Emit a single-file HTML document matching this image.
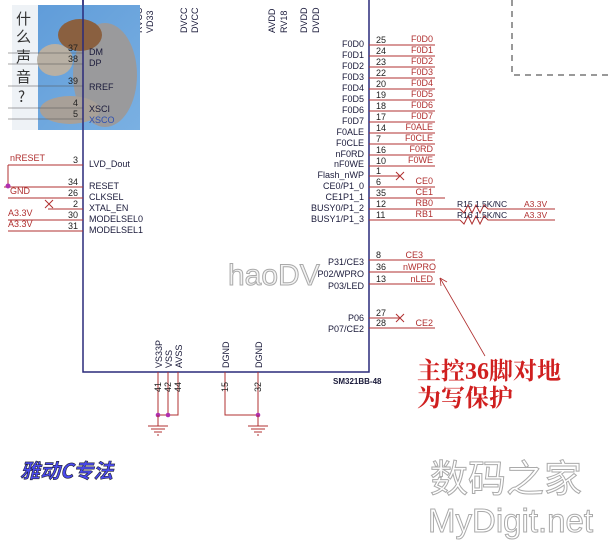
<!DOCTYPE html>
<html><head><meta charset="utf-8"><style>
html,body{margin:0;padding:0;background:#fff;}
svg{display:block;}
.t{font-family:"Liberation Sans",sans-serif;font-size:9px;fill:#1a1a3a;}
.r{font-family:"Liberation Sans",sans-serif;font-size:9px;fill:#b03030;}
.n{font-family:"Liberation Sans",sans-serif;font-size:9px;fill:#222;}
</style></head><body>
<svg width="608" height="554" viewBox="0 0 608 554" xmlns="http://www.w3.org/2000/svg">
<rect width="608" height="554" fill="#fff"/>
<path d="M512 0 V75 H608" fill="none" stroke="#333" stroke-dasharray="6,5" stroke-width="1"/>
<path d="M83 0 V372 H369 V0" fill="none" stroke="#2a2a7a" stroke-width="1.5"/>
<text x="333" y="384" class="t" style="font-weight:bold;font-size:8px">SM321BB-48</text>
<g class="t">
<text transform="translate(109,30) rotate(-90)" style="fill:#3050b0">RV5</text>
<text transform="translate(119,30) rotate(-90)" style="fill:#3050b0">RV33</text>
<text transform="translate(142,33) rotate(-90)">RVCC</text>
<text transform="translate(153,33) rotate(-90)">VD33</text>
<text transform="translate(187,33) rotate(-90)">DVCC</text>
<text transform="translate(198,33) rotate(-90)">DVCC</text>
<text transform="translate(275,33) rotate(-90)">AVDD</text>
<text transform="translate(287,33) rotate(-90)">RV18</text>
<text transform="translate(307,33) rotate(-90)">DVDD</text>
<text transform="translate(319,33) rotate(-90)">DVDD</text>
</g>
<g stroke="#b03030" stroke-width="1" fill="none">
<line x1="369" y1="45" x2="435" y2="45"/><line x1="369" y1="56" x2="435" y2="56"/>
<line x1="369" y1="67" x2="435" y2="67"/><line x1="369" y1="78" x2="435" y2="78"/>
<line x1="369" y1="89" x2="435" y2="89"/><line x1="369" y1="100" x2="435" y2="100"/>
<line x1="369" y1="111" x2="435" y2="111"/><line x1="369" y1="122" x2="435" y2="122"/>
<line x1="369" y1="133" x2="435" y2="133"/><line x1="369" y1="144" x2="435" y2="144"/>
<line x1="369" y1="155" x2="435" y2="155"/><line x1="369" y1="166" x2="435" y2="166"/>
<line x1="369" y1="176" x2="400" y2="176"/>
<line x1="369" y1="187" x2="435" y2="187"/><line x1="369" y1="198" x2="445" y2="198"/>
<line x1="369" y1="209" x2="460" y2="209"/><line x1="369" y1="220" x2="460" y2="220"/>
<path d="M460 209 l4 4 l4 -8 l4 8 l4 -8 l4 8 l4 -8 l4 4 H555"/>
<path d="M460 220 l4 4 l4 -8 l4 8 l4 -8 l4 8 l4 -8 l4 4 H555"/>
<line x1="369" y1="260" x2="435" y2="260"/><line x1="369" y1="272" x2="435" y2="272"/>
<line x1="369" y1="284" x2="435" y2="284"/>
<line x1="369" y1="318" x2="400" y2="318"/><line x1="369" y1="328" x2="435" y2="328"/>
</g>
<g stroke="#b03030" fill="none"><path d="M396 172 l8 8 M396 180 l8 -8"/><path d="M396 314 l8 8 M396 322 l8 -8"/><path d="M45 200 l8 8 M45 208 l8 -8"/></g>
<g class="t" text-anchor="end">
<text x="364" y="47">F0D0</text><text x="364" y="58">F0D1</text><text x="364" y="69">F0D2</text><text x="364" y="80">F0D3</text>
<text x="364" y="91">F0D4</text><text x="364" y="102">F0D5</text><text x="364" y="113">F0D6</text><text x="364" y="124">F0D7</text>
<text x="364" y="135">F0ALE</text><text x="364" y="146">F0CLE</text><text x="364" y="157">nF0RD</text><text x="364" y="167">nF0WE</text>
<text x="364" y="178">Flash_nWP</text><text x="364" y="189">CE0/P1_0</text><text x="364" y="200">CE1P1_1</text>
<text x="364" y="211">BUSY0/P1_2</text><text x="364" y="222">BUSY1/P1_3</text>
<text x="364" y="265">P31/CE3</text><text x="364" y="277">P02/WPRO</text><text x="364" y="289">P03/LED</text>
<text x="364" y="321">P06</text><text x="364" y="332">P07/CE2</text>
</g>
<g class="n">
<text x="376" y="43">25</text><text x="376" y="54">24</text><text x="376" y="65">23</text><text x="376" y="76">22</text>
<text x="376" y="87">20</text><text x="376" y="98">19</text><text x="376" y="109">18</text><text x="376" y="120">17</text>
<text x="376" y="131">14</text><text x="376" y="142">7</text><text x="376" y="153">16</text><text x="376" y="164">10</text>
<text x="376" y="174">1</text><text x="376" y="185">6</text><text x="376" y="196">35</text><text x="376" y="207">12</text><text x="376" y="218">11</text>
<text x="376" y="258">8</text><text x="376" y="270">36</text><text x="376" y="282">13</text>
<text x="376" y="316">27</text><text x="376" y="326">28</text>
</g>
<g class="r" text-anchor="end">
<text x="433" y="42">F0D0</text><text x="433" y="53">F0D1</text><text x="433" y="64">F0D2</text><text x="433" y="75">F0D3</text>
<text x="433" y="86">F0D4</text><text x="433" y="97">F0D5</text><text x="433" y="108">F0D6</text><text x="433" y="119">F0D7</text>
<text x="433" y="130">F0ALE</text><text x="433" y="141">F0CLE</text><text x="433" y="152">F0RD</text><text x="433" y="163">F0WE</text>
<text x="433" y="184">CE0</text><text x="433" y="195">CE1</text><text x="433" y="206">RB0</text><text x="433" y="217">RB1</text>
<text x="423" y="258">CE3</text><text x="436" y="270">nWPRO</text><text x="433" y="282">nLED</text>
<text x="433" y="326">CE2</text>
</g>
<g class="t" style="font-size:8.5px"><text x="457" y="207">R15  1.5K/NC</text><text x="457" y="218">R16  1.5K/NC</text></g>
<g class="r" style="font-size:8.5px"><text x="524" y="207">A3.3V</text><text x="524" y="218">A3.3V</text></g>
<g stroke="#b03030" stroke-width="1">
<line x1="8" y1="165" x2="83" y2="165"/><line x1="4" y1="187" x2="83" y2="187"/>
<line x1="8" y1="198" x2="83" y2="198"/><line x1="48" y1="209" x2="83" y2="209"/>
<line x1="8" y1="220" x2="83" y2="220"/><line x1="8" y1="231" x2="83" y2="231"/>
<line x1="8" y1="165" x2="8" y2="187"/>
</g>
<circle cx="8" cy="186" r="2.5" fill="#b030b0"/>
<g class="r"><text x="10" y="161">nRESET</text><text x="10" y="194">GND</text><text x="8" y="216">A3.3V</text><text x="8" y="227">A3.3V</text></g>
<g class="n" text-anchor="end"><text x="78" y="163">3</text><text x="78" y="185">34</text><text x="78" y="196">26</text><text x="78" y="207">2</text><text x="78" y="218">30</text><text x="78" y="229">31</text></g>
<g class="t"><text x="89" y="167">LVD_Dout</text><text x="89" y="189">RESET</text><text x="89" y="200">CLKSEL</text><text x="89" y="211">XTAL_EN</text><text x="89" y="222">MODELSEL0</text><text x="89" y="233">MODELSEL1</text></g>
<defs><linearGradient id="g" x1="0" y1="0" x2="1" y2="1"><stop offset="0" stop-color="#5d9ad8"/><stop offset="1" stop-color="#7ab0e2"/></linearGradient></defs>
<rect x="12" y="5" width="128" height="125" fill="url(#g)"/>
<rect x="12" y="5" width="26" height="125" fill="#eef2f6"/>
<ellipse cx="105" cy="75" rx="32" ry="52" fill="#9a9a9c"/>
<ellipse cx="80" cy="35" rx="22" ry="16" fill="#8a6040"/>
<ellipse cx="55" cy="60" rx="18" ry="16" fill="#b8b0a4"/>
<ellipse cx="70" cy="110" rx="30" ry="14" fill="#a8a098"/>
<g stroke="#555" stroke-width="0.8" opacity="0.7"><line x1="8" y1="53" x2="83" y2="53"/><line x1="8" y1="64" x2="83" y2="64"/><line x1="8" y1="86" x2="83" y2="86"/><line x1="8" y1="108" x2="83" y2="108"/><line x1="8" y1="119" x2="83" y2="119"/></g>
<g style="font-family:'Noto Sans CJK SC',sans-serif;font-size:15px;fill:#333"><text x="16" y="24">什</text><text x="16" y="42">么</text><text x="16" y="62">声</text><text x="16" y="82">音</text><text x="18" y="102">?</text></g>
<g class="n" text-anchor="end"><text x="78" y="51">37</text><text x="78" y="62">38</text><text x="78" y="84">39</text><text x="78" y="106">4</text><text x="78" y="117">5</text></g>
<g class="t"><text x="89" y="55">DM</text><text x="89" y="66">DP</text><text x="89" y="90">RREF</text><text x="89" y="112">XSCI</text><text x="89" y="123" style="fill:#3050b0">XSCO</text></g>
<line x1="83" y1="0" x2="83" y2="130" stroke="#2a2a7a" stroke-width="1.5"/>
<g class="t"><text transform="translate(162,368) rotate(-90)">VS33P</text><text transform="translate(172,368) rotate(-90)">VSS</text><text transform="translate(182,368) rotate(-90)">AVSS</text><text transform="translate(229,368) rotate(-90)">DGND</text><text transform="translate(262,368) rotate(-90)">DGND</text></g>
<g stroke="#b03030" fill="none"><path d="M158 372 V415 M168 372 V415 M178 372 V415 H158 M225 372 V415 H258 M258 372 V415"/></g>
<g class="n"><text transform="translate(161,392) rotate(-90)">41</text><text transform="translate(171,392) rotate(-90)">42</text><text transform="translate(181,392) rotate(-90)">44</text><text transform="translate(228,392) rotate(-90)">15</text><text transform="translate(261,392) rotate(-90)">32</text></g>
<g fill="#b030b0"><circle cx="158" cy="415" r="2.3"/><circle cx="168" cy="415" r="2.3"/><circle cx="258" cy="415" r="2.3"/></g>
<g stroke="#b03030" fill="none"><path d="M158 415 V426 M148 426 H168 M151 429 H165 M154 432 H162 M157 435 H159 M258 415 V426 M248 426 H268 M251 429 H265 M254 432 H262 M257 435 H259"/></g>
<text x="228" y="285" style="font-family:'Liberation Sans',sans-serif;font-size:30px;fill:#f4f4f4;stroke:#aaa;stroke-width:1">haoDV</text>
<line x1="485" y1="356" x2="440" y2="278" stroke="#b03030" stroke-width="0.8"/>
<path d="M440 278 l1 8 M440 278 l7 4" stroke="#b03030" stroke-width="0.8" fill="none"/>
<g style="font-family:'Liberation Serif','Noto Serif CJK SC',serif;font-size:24px;fill:#d02020;font-weight:bold"><text x="417" y="379">主控36脚对地</text><text x="417" y="406">为写保护</text></g>
<text x="20" y="478" style="font-family:'Noto Sans CJK SC',sans-serif;font-size:20px;font-weight:bold;font-style:italic;fill:#4a4aee;stroke:#223;stroke-width:0.6">雅动C专法</text>
<g style="font-family:'Noto Sans CJK SC','Liberation Sans',sans-serif;fill:#fff;stroke:#aaa;stroke-width:1"><text x="430" y="492" style="font-size:38px">数码之家</text><text x="428" y="532" style="font-family:'Liberation Sans',sans-serif;font-size:33px">MyDigit.net</text></g>
</svg>
</body></html>
